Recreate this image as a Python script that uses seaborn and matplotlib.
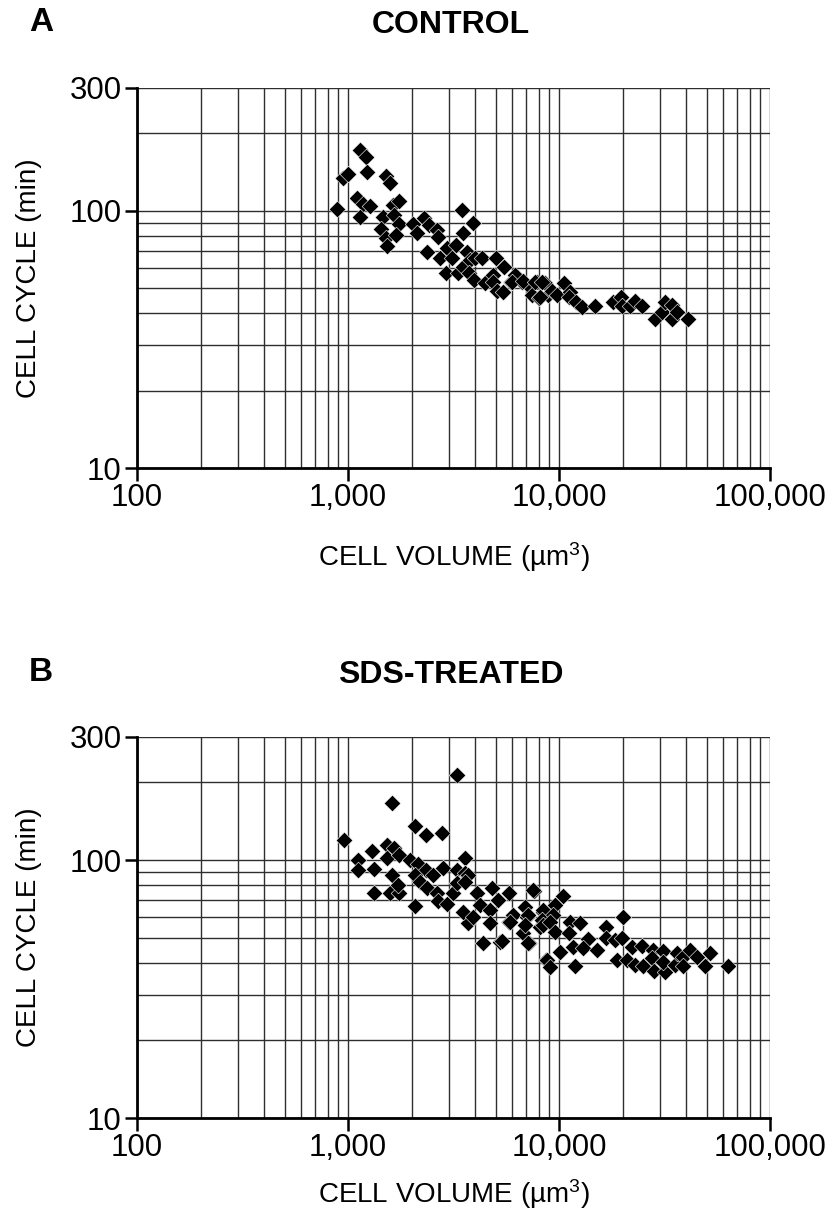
import matplotlib
matplotlib.use("Agg")
import matplotlib.pyplot as plt
from matplotlib.ticker import FixedLocator, NullFormatter
import seaborn as sns
import pandas as pd

# --- data (volume in um^3, cycle in min) ---
control_volume = [1140, 1217, 947, 1000, 1230, 1514, 1582, 887, 1104, 1178, 1271, 1140,
                  1634, 1745, 1465, 1652, 1433, 1745, 1514, 1688, 1531, 2033, 2123, 2293,
                  2421, 2641, 2673, 2368, 3470, 3911, 3508, 2730, 2946, 3112, 3250, 2913,
                  3321, 3508, 3664, 3786, 3998, 4315, 3745, 3955, 4457, 5027, 5488, 4866,
                  4866, 5082, 5430, 5926, 6321, 6677, 7290, 7863, 8586, 7450, 8037, 8872,
                  6187, 5990, 6748, 7696, 8300, 8128, 9270, 9790, 10560, 11270, 11140,
                  12040, 12850, 14820, 18030, 19680, 19900, 21700, 22900, 24730, 28500,
                  30760, 31790, 34340, 34340, 36250, 40840]
control_cycle = [172, 162, 134, 139, 141, 136, 128, 102, 112, 106, 104, 94.5,
                 105, 109, 94.5, 96, 84.9, 88.8, 78.3, 80.5, 72.9, 88.8, 81.9, 93.7,
                 88.0, 84.1, 79.0, 69.0, 101, 89.6, 81.9, 65.5, 71.6, 65.5, 73.6, 57.3,
                 57.3, 60.4, 69.0, 64.3, 65.5, 65.5, 57.3, 53.8, 52.4, 65.5, 60.4, 56.2,
                 52.8, 48.7, 48.3, 52.8, 55.2, 52.8, 50.5, 52.8, 52.4, 47.0, 45.8, 47.0,
                 56.2, 52.8, 53.4, 52.8, 52.8, 46.2, 48.7, 47.0, 52.4, 48.3, 46.2,
                 44.2, 42.3, 42.6, 44.2, 46.2, 42.6, 42.6, 44.6, 42.6, 37.9,
                 40.4, 44.2, 43.0, 37.9, 40.4, 37.9]

sds_volume = [3286, 1617, 957, 2078, 2342, 2789, 3586, 1115, 1115, 1328, 1300, 1531,
              1531, 1652, 1745, 1328, 1617, 1582, 1745, 1727, 1966, 2147, 2342, 2078,
              2194, 2078, 2528, 2820, 3286, 3586, 3707, 2368, 2641, 2673, 2946, 3145,
              3286, 3586, 3707, 3508, 3911, 4087, 4225, 4365, 4815, 4714, 4714, 5250,
              5140, 5797, 5797, 6053, 6900, 7050, 6748, 7210, 7620, 8128, 8400, 8670,
              7530, 10450, 9570, 7130, 8400, 9370, 5370, 5860, 6900, 7130, 8300, 8400,
              9060, 9570, 11270, 12590, 11140, 8770, 9060, 10110, 11910, 11650, 13710,
              13000, 15140, 16710, 16710, 18410, 20100, 19900, 18840, 21000, 22180,
              24730, 22910, 25000, 27890, 27610, 28200, 31120, 31790, 31120, 35470,
              36250, 38700, 38700, 41780, 45100, 49200, 52000, 63240]
sds_cycle = [213, 166, 120, 135, 125, 127, 102, 100, 91.5, 92.3, 108, 114,
             102, 111, 105, 74.5, 87.5, 74.5, 74.5, 80.0, 100, 96.4, 91.5, 87.5,
             82.2, 66.3, 87.5, 93.1, 91.5, 89.1, 87.5, 77.9, 74.5, 69.4, 67.5, 74.5,
             81.4, 82.2, 57.0, 62.9, 60.1, 74.5, 66.9, 47.7, 77.9, 64.0, 57.0, 48.1,
             70.0, 74.5, 57.5, 61.2, 65.7, 60.1, 52.1, 47.7, 75.8, 55.0, 62.9, 41.0,
             76.5, 72.5, 66.9, 61.2, 64.0, 61.2, 48.5, 57.5, 56.0, 47.7, 58.5, 56.0,
             57.5, 52.6, 57.5, 57.0, 52.1, 41.0, 38.5, 44.0, 38.8, 46.0, 49.4,
             45.6, 44.8, 55.0, 49.9, 49.0, 60.1, 49.9, 41.0, 41.0, 46.0,
             46.4, 39.2, 38.8, 44.8, 41.7, 37.1, 44.4, 36.8, 40.2, 39.2,
             43.6, 42.1, 38.8, 44.8, 42.1, 38.8, 43.6, 38.8]

x_ticks = [100, 1000, 10000, 100000]
x_tick_labels = ["100", "1,000", "10,000", "100,000"]
y_ticks = [10, 100, 300]
y_tick_labels = ["10", "100", "300"]

panels = [
    ("A", "CONTROL", control_volume, control_cycle),
    ("B", "SDS-TREATED", sds_volume, sds_cycle),
]

sns.set_style("white")
plt.rcParams["font.family"] = ["Liberation Sans", "DejaVu Sans"]
plt.rcParams["mathtext.fontset"] = "custom"
plt.rcParams["mathtext.rm"] = "Liberation Sans"
plt.rcParams["mathtext.it"] = "Liberation Sans:italic"
for key in ["text.color", "axes.labelcolor", "xtick.color", "ytick.color"]:
    plt.rcParams[key] = "black"

fig = plt.figure(figsize=(8.33, 12.22), dpi=100)
axes_rects = [[0.1645, 0.6170, 0.7599, 0.3110], [0.1645, 0.0851, 0.7599, 0.3118]]
title_y = [0.9795, 0.4476]
xlabel_y = [-0.19, -0.155]

for i, (letter, title, vol, cyc) in enumerate(panels):
    ax = fig.add_axes(axes_rects[i])
    df = pd.DataFrame({"volume": vol, "cycle": cyc})
    sns.scatterplot(data=df, x="volume", y="cycle", ax=ax, marker="D", s=72,
                    color="black", edgecolor="white", linewidth=0.4, zorder=3)
    ax.set_xscale("log")
    ax.set_yscale("log")
    ax.set_xlim(100, 100000)
    ax.set_ylim(10, 300)

    ax.xaxis.set_major_locator(FixedLocator(x_ticks))
    ax.set_xticklabels(x_tick_labels)
    ax.xaxis.set_minor_locator(FixedLocator([m * d for d in [100, 1000, 10000] for m in range(2, 10)]))
    ax.xaxis.set_minor_formatter(NullFormatter())
    ax.yaxis.set_major_locator(FixedLocator(y_ticks))
    ax.set_yticklabels(y_tick_labels)
    ax.yaxis.set_minor_locator(FixedLocator([m * 10 for m in range(2, 10)] + [200]))
    ax.yaxis.set_minor_formatter(NullFormatter())

    ax.grid(True, which="both", color="#2e2e2e", linewidth=1.0)
    ax.set_axisbelow(True)
    for side in ["top", "right"]:
        ax.spines[side].set_visible(False)
    for side in ["left", "bottom"]:
        ax.spines[side].set_linewidth(2.0)
        ax.spines[side].set_color("black")
    ax.tick_params(which="major", direction="out", length=9, width=1.8,
                   labelsize=22.5, pad=2, left=True, bottom=True)
    ax.tick_params(which="minor", length=0)

    ax.set_xlabel("CELL VOLUME (µm$^{3}$)", fontsize=20)
    ax.set_ylabel("CELL CYCLE (min)", fontsize=20)
    ax.xaxis.set_label_coords(0.5, xlabel_y[i])
    ax.yaxis.set_label_coords(-0.15, 0.5)

    fig.text(0.541, title_y[i], title, ha="center", va="center",
             fontsize=23, fontweight="bold")
    fig.text(0.035, title_y[i] + 0.002, letter, ha="left", va="center",
             fontsize=24, fontweight="heavy")

fig.savefig("out.png", dpi=100)
plt.close(fig)
